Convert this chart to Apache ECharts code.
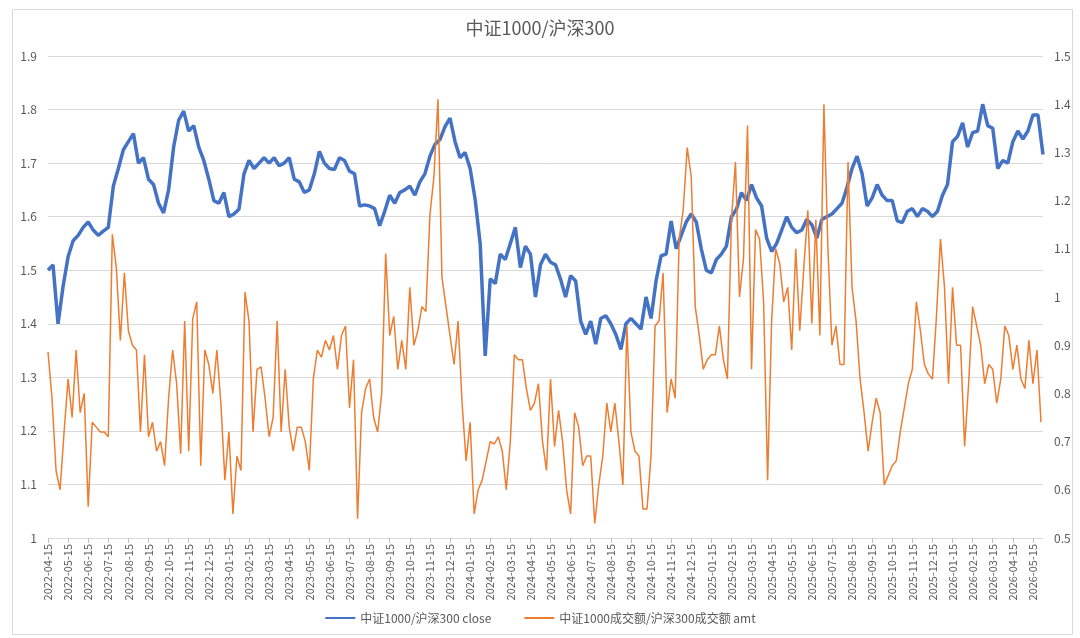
<!DOCTYPE html>
<html>
<head>
<meta charset="utf-8">
<script src="https://cdn.jsdelivr.net/npm/echarts@6/dist/echarts.min.js"></script>
<style>
html,body{margin:0;padding:0;background:#fff;}
#chart{width:1080px;height:638px;}
</style>
</head>
<body>
<div id="chart"></div>
<script>
// Month tick labels (x axis, one per month)
const monthLabels = [
  '2022-04-15','2022-05-15','2022-06-15','2022-07-15','2022-08-15','2022-09-15','2022-10-15','2022-11-15','2022-12-15',
  '2023-01-15','2023-02-15','2023-03-15','2023-04-15','2023-05-15','2023-06-15','2023-07-15','2023-08-15','2023-09-15','2023-10-15','2023-11-15','2023-12-15',
  '2024-01-15','2024-02-15','2024-03-15','2024-04-15','2024-05-15','2024-06-15','2024-07-15','2024-08-15','2024-09-15','2024-10-15','2024-11-15','2024-12-15',
  '2025-01-15','2025-02-15','2025-03-15','2025-04-15','2025-05-15','2025-06-15','2025-07-15','2025-08-15','2025-09-15','2025-10-15','2025-11-15','2025-12-15',
  '2026-01-15','2026-02-15','2026-03-15','2026-04-15','2026-05-15'
];

// Sampling step in months (from 2022-04-15)
const CLOSE_STEP = 0.25;
const AMT_STEP = 0.2;

// 中证1000/沪深300 close (left axis)
const closeRatio = [
  1.50,1.51,1.40,1.47,1.525,1.555,1.565,1.58,1.59,1.575,1.565,1.573,1.58,1.657,1.69,1.725,1.74,1.755,1.70,1.71,1.67,1.66,1.625,1.607,1.65,1.73,1.78,1.797,1.76,1.77,1.73,1.705,1.67,1.63,
  1.625,1.645,1.60,1.605,1.614,1.68,1.705,1.69,1.70,1.71,1.70,1.71,1.695,1.70,1.71,1.67,1.665,1.645,1.65,1.68,1.722,1.70,1.69,1.688,1.71,1.705,1.685,1.68,1.62,1.622,1.62,1.615,1.583,
  1.61,1.64,1.625,1.645,1.65,1.657,1.64,1.665,1.68,1.713,1.735,1.744,1.768,1.784,1.74,1.71,1.72,1.69,1.632,1.55,1.34,1.484,1.475,1.53,1.52,1.55,1.58,1.505,1.545,1.53,1.45,1.51,1.53,
  1.515,1.51,1.483,1.45,1.49,1.48,1.405,1.38,1.405,1.362,1.41,1.415,1.40,1.38,1.352,1.40,1.41,1.40,1.39,1.45,1.41,1.48,1.527,1.53,1.592,1.54,1.565,1.59,1.605,1.59,1.54,1.50,1.495,
  1.52,1.53,1.545,1.60,1.614,1.645,1.63,1.66,1.635,1.62,1.56,1.535,1.55,1.575,1.60,1.58,1.57,1.575,1.595,1.585,1.56,1.595,1.60,1.605,1.615,1.625,1.655,1.69,1.713,1.68,1.62,1.635,
  1.66,1.64,1.63,1.63,1.592,1.589,1.61,1.615,1.60,1.615,1.61,1.60,1.61,1.64,1.66,1.74,1.75,1.775,1.73,1.757,1.76,1.81,1.77,1.765,1.69,1.705,1.70,1.74,1.76,1.745,1.76,1.79,1.79,1.716
];

// 中证1000成交额/沪深300成交额 amt (right axis)
const amtRatio = [
  0.886,0.79,0.64,0.60,0.72,0.83,0.75,0.89,0.76,0.80,0.565,0.74,0.73,0.72,0.72,0.71,1.13,1.06,0.91,1.05,0.93,0.90,0.89,0.72,0.88,0.71,0.74,0.68,0.70,0.65,0.79,0.89,0.82,0.675,0.95,0.68,0.955,0.99,0.65,0.89,0.86,0.80,
  0.89,0.78,0.62,0.72,0.55,0.67,0.64,1.01,0.95,0.72,0.85,0.855,0.79,0.71,0.75,0.95,0.72,0.85,0.73,0.68,0.73,0.73,0.70,0.64,0.83,0.89,0.875,0.91,0.89,0.92,0.85,0.92,0.94,0.77,0.87,0.54,0.76,0.81,0.83,0.75,0.72,
  0.80,1.09,0.92,0.96,0.85,0.91,0.85,1.02,0.90,0.93,0.98,0.97,1.17,1.25,1.41,1.04,0.98,0.92,0.86,0.95,0.78,0.66,0.74,0.55,0.60,0.62,0.66,0.70,0.695,0.71,0.68,0.60,0.70,0.88,0.87,0.87,0.81,0.765,0.78,0.82,0.70,0.64,
  0.83,0.69,0.765,0.70,0.60,0.55,0.76,0.73,0.65,0.67,0.67,0.53,0.61,0.67,0.78,0.72,0.78,0.70,0.61,0.94,0.72,0.68,0.67,0.56,0.56,0.67,0.94,0.95,1.05,0.76,0.83,0.79,1.12,1.18,1.31,1.25,0.98,0.92,0.85,0.87,0.88,
  0.88,0.94,0.87,0.83,1.16,1.28,1.00,1.08,1.356,0.85,1.14,1.12,0.99,0.62,0.95,1.10,1.07,0.99,1.02,0.89,1.10,0.93,1.06,1.18,0.945,1.16,0.92,1.40,1.10,0.90,0.94,0.86,0.86,1.28,1.02,0.95,0.83,0.76,
  0.68,0.74,0.79,0.76,0.61,0.63,0.65,0.66,0.72,0.77,0.82,0.85,0.99,0.93,0.86,0.84,0.83,0.96,1.12,1.02,0.82,1.02,0.90,0.90,0.69,0.82,0.98,0.94,0.90,0.82,0.86,0.85,0.78,0.83,0.94,0.92,0.85,0.90,0.83,0.81,0.91,0.82,0.89,0.74
];

const seriesNames = ['中证1000/沪深300 close', '中证1000成交额/沪深300成交额 amt'];

const chart = echarts.init(document.getElementById('chart'), null, {renderer: 'canvas'});
const txt = '#595959';
const fontFam = '"Noto Sans CJK SC", "Noto Sans", sans-serif';

chart.setOption({
  animation: false,
  backgroundColor: '#ffffff',
  textStyle: {fontFamily: fontFam},
  graphic: [{
    type: 'rect', left: 10, top: 7, shape: {width: 1060, height: 625},
    style: {fill: 'none', stroke: '#d9d9d9', lineWidth: 1}, silent: true, z: -10
  }],
  title: {
    text: '中证1000/沪深300', left: 'center', top: 14,
    textStyle: {fontSize: 18, fontWeight: 'normal', color: txt, fontFamily: fontFam}
  },
  legend: {
    bottom: 9, left: 'center', itemWidth: 30, itemHeight: 10, itemGap: 32,
    itemStyle: {opacity: 0},
    textStyle: {fontSize: 12, color: txt, fontFamily: fontFam},
    data: seriesNames
  },
  grid: {left: 48, right: 37, top: 56, bottom: 100},
  xAxis: {
    type: 'value', min: 0, max: 49.5, interval: 1,
    axisLine: {show: true, lineStyle: {color: '#d9d9d9'}},
    axisTick: {show: true, length: 5, lineStyle: {color: '#bfbfbf'}},
    splitLine: {show: false},
    axisLabel: {
      rotate: 90, fontSize: 11, color: txt, margin: 6, showMaxLabel: false,
      formatter: v => monthLabels[v] || ''
    }
  },
  yAxis: [{
    type: 'value', min: 1, max: 1.9, interval: 0.1, position: 'left',
    axisLine: {show: false}, axisTick: {show: false},
    splitLine: {show: true, lineStyle: {color: '#d9d9d9', width: 1}},
    axisLabel: {fontSize: 12, color: txt, margin: 11}
  }, {
    type: 'value', min: 0.5, max: 1.5, interval: 0.1, position: 'right',
    axisLine: {show: false}, axisTick: {show: false},
    splitLine: {show: false},
    axisLabel: {fontSize: 12, color: txt, margin: 11}
  }],
  series: [{
    name: seriesNames[0], type: 'line', yAxisIndex: 0, symbol: 'none',
    lineStyle: {color: '#4472C4', width: 3.5}, itemStyle: {color: '#4472C4'},
    data: closeRatio.map((v, i) => [i * CLOSE_STEP, v]), z: 2
  }, {
    name: seriesNames[1], type: 'line', yAxisIndex: 1, symbol: 'none',
    lineStyle: {color: '#ED7D31', width: 1.5}, itemStyle: {color: '#ED7D31'},
    data: amtRatio.map((v, i) => [i * AMT_STEP, v]), z: 3
  }]
});
</script>
</body>
</html>
